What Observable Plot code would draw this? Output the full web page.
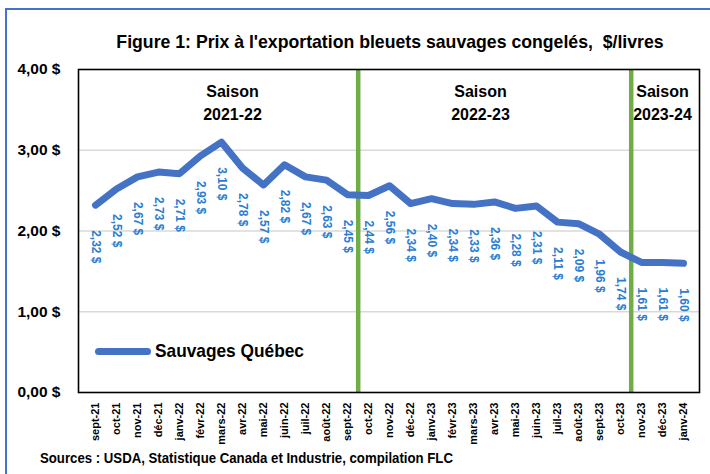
<!DOCTYPE html>
<html><head><meta charset="utf-8">
<script src="https://cdn.jsdelivr.net/npm/d3@7"></script>
<script src="https://cdn.jsdelivr.net/npm/@observablehq/plot@0.6"></script>
<style>
  html,body{margin:0;padding:0;background:#fff;}
  #wrap{position:relative;width:710px;height:474px;overflow:hidden;font-family:"Liberation Sans",Arial,sans-serif;font-weight:bold;color:#000;}
  #border{position:absolute;left:5px;top:8px;width:720px;height:480px;border-top:2px solid #4472c4;border-left:2px solid #4472c4;}
  #title{position:absolute;left:0;width:780px;top:31px;text-align:center;font-size:19px;white-space:pre;transform:scaleX(0.93);transform-origin:390px 0;}
  #chart{position:absolute;left:0;top:55px;}
  #legend{position:absolute;left:95px;top:340px;display:flex;align-items:center;}
  #legend .sw{width:56px;height:7px;border-radius:4px;background:#4472c4;margin-right:4px;}
  #legend span{font-size:19px;display:inline-block;transform:scaleX(0.91);transform-origin:0 0;}
  #caption{position:absolute;left:40px;top:449px;font-size:15px;white-space:pre;transform:scaleX(0.88);transform-origin:0 0;}
</style>
</head><body>
<div id="wrap">
  <div id="border"></div>
  <div id="title"></div>
  <div id="chart"></div>
  <div id="legend"><div class="sw"></div><span id="legtext"></span></div>
  <div id="caption"></div>
</div>
<script>
const months = ["sept-21","oct-21","nov-21","déc-21","janv-22","févr-22","mars-22","avr-22","mai-22","juin-22","juil-22","août-22","sept-22","oct-22","nov-22","déc-22","janv-23","févr-23","mars-23","avr-23","mai-23","juin-23","juil-23","août-23","sept-23","oct-23","nov-23","déc-23","janv-24"];
const prices = [2.32,2.52,2.67,2.73,2.71,2.93,3.10,2.78,2.57,2.82,2.67,2.63,2.45,2.44,2.56,2.34,2.40,2.34,2.33,2.36,2.28,2.31,2.11,2.09,1.96,1.74,1.61,1.61,1.60];
const yTicks = [0,1,2,3,4];
const gridTicks = [1,2,3];
const seasonNames = ["Saison\n2021-22","Saison\n2022-23","Saison\n2023-24"];
const seasonAt = ["mars-22","mars-23","déc-23"];
const seasonShift = [11,7,0];
const seasonBreaks = ["sept-22","oct-23"];
const seriesName = "Sauvages Québec";
const titleText = "Figure 1: Prix à l'exportation bleuets sauvages congelés,  $/livres";
const captionText = "Sources : USDA, Statistique Canada et Industrie, compilation FLC";

const FONT = '"Liberation Sans",Arial,sans-serif';
const fmt = v => v.toFixed(2).replace(".", ",") + " $";
const data = months.map((m,i) => ({month:m, price:prices[i]}));
const seasons = seasonNames.map((s,i) => ({name:s, at:seasonAt[i], dx:seasonShift[i]}));

document.getElementById("title").textContent = titleText;
document.getElementById("caption").textContent = captionText;
document.getElementById("legtext").textContent = seriesName;

const seasonText = s => Plot.text([s], {x: "at", y: () => 3.61, text: "name", dx: s.dx, fontSize: 16, fontWeight: "bold", lineHeight: 1.42, fill: "#000"});

const chart = Plot.plot({
  width: 710, height: 395,
  marginLeft: 78, marginRight: 11, marginTop: 14, marginBottom: 58,
  style: {fontFamily: FONT, background: "transparent", color: "#000"},
  x: {type: "point", domain: months, padding: 0.5, label: null},
  y: {domain: [0,4], label: null},
  marks: [
    Plot.gridY(gridTicks, {stroke: "#d9d9d9", strokeOpacity: 1, strokeWidth: 1.5}),
    Plot.axisY(yTicks, {tickFormat: fmt, tickSize: 0, tickPadding: 18, fontSize: 15.5, fontWeight: "bold", label: null}),
    Plot.axisX({tickRotate: -90, tickSize: 0, tickPadding: 10, fontSize: 11, fontWeight: "bold", label: null}),
    Plot.ruleX(seasonBreaks, {x: d => d, dx: 10.7, stroke: "#70ad47", strokeWidth: 4.5}),
    Plot.frame({stroke: "#000", strokeWidth: 1.6}),
    Plot.line(data, {x: "month", y: "price", stroke: "#4472c4", strokeWidth: 7, strokeLinecap: "round", strokeLinejoin: "round"}),
    Plot.text(data, {x: "month", y: "price", text: d => fmt(d.price), rotate: 90, textAnchor: "start", lineAnchor: "middle", dy: 25, fill: "#2a7dd1", fontSize: 12, fontWeight: "bold"}),
    ...seasons.map(seasonText)
  ]
});
document.getElementById("chart").appendChild(chart);
</script>
</body></html>
